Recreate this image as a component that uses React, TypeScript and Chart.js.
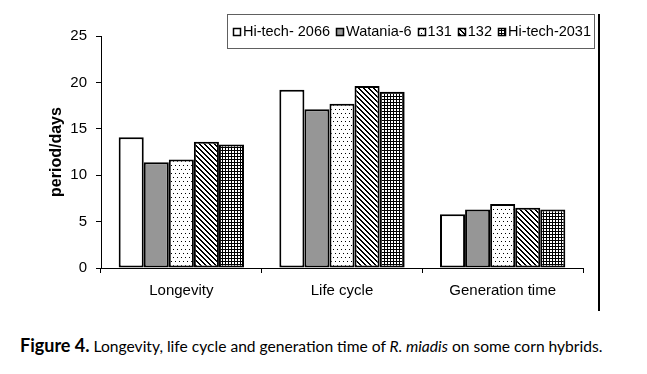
import React, { useEffect, useRef } from "react";
import { Chart, registerables } from "chart.js";

Chart.register(...registerables);

const categories = ["Longevity", "Life cycle", "Generation time"];
const seriesNames = ["Hi-tech- 2066", "Watania-6", "131", "132", "Hi-tech-2031"];
const hitech2066 = [14.1, 19.2, 5.8];
const watania6 = [11.4, 17.1, 6.3];
const hybrid131 = [11.7, 17.7, 6.9];
const hybrid132 = [13.6, 19.6, 6.5];
const hitech2031 = [13.3, 19.0, 6.3];
const yMin = 0;
const yMax = 25;
const yStep = 5;
const yTitle = "period/days";

const FONT = '"Liberation Sans", Arial, sans-serif';

function makeTile(w: number, h: number, fn: (x: number, y: number) => boolean): CanvasPattern | string {
  const c = document.createElement("canvas");
  c.width = w;
  c.height = h;
  const ctx = c.getContext("2d");
  if (!ctx) return "#fff";
  ctx.fillStyle = "#ffffff";
  ctx.fillRect(0, 0, w, h);
  ctx.fillStyle = "#000000";
  for (let y = 0; y < h; y++) {
    for (let x = 0; x < w; x++) {
      if (fn(x, y)) ctx.fillRect(x, y, 1, 1);
    }
  }
  const p = ctx.createPattern(c, "repeat");
  return p || "#fff";
}

export default function App() {
  const ref = useRef<HTMLCanvasElement | null>(null);

  useEffect(() => {
    if (!ref.current) return;
    const dots = makeTile(8, 8, (x, y) => (x === 1 && y === 1) || (x === 5 && y === 1) || (x === 3 && y === 5) || (x === 7 && y === 5));
    const diag = makeTile(5, 5, (x, y) => {
      const d = (((x - y) % 5) + 5) % 5;
      return d === 0 || d === 1;
    });
    const grid = makeTile(3, 3, (x, y) => x % 3 === 0 || y % 3 === 0);
    const fills: (CanvasPattern | string)[] = ["#ffffff", "#969696", dots, diag, grid];
    const values = [hitech2066, watania6, hybrid131, hybrid132, hitech2031];

    const decor = {
      id: "decor",
      afterDraw(chart: any) {
        const ctx = chart.ctx as CanvasRenderingContext2D;
        ctx.save();
        // right frame line
        ctx.fillStyle = "#000";
        ctx.fillRect(598, 14, 2, 297);
        // legend box
        ctx.strokeStyle = "#606060";
        ctx.lineWidth = 1;
        ctx.strokeRect(227.5, 14.5, 367, 34);
        ctx.font = `14.5px ${FONT}`;
        ctx.textBaseline = "middle";
        ctx.textAlign = "left";
        const marker = 8;
        const mGap = 2;
        const startX = 233;
        const endX = 591;
        const widths = seriesNames.map((n) => ctx.measureText(n).width);
        const used = widths.reduce((a, b) => a + b, 0) + seriesNames.length * (marker + mGap);
        const gap = (endX - startX - used) / (seriesNames.length - 1);
        let x = startX;
        seriesNames.forEach((name, i) => {
          const mx = Math.round(x);
          ctx.fillStyle = fills[i] as any;
          ctx.fillRect(mx, 28, marker, marker);
          ctx.strokeStyle = "#000";
          ctx.lineWidth = 1.5;
          ctx.strokeRect(mx + 0.5, 28.5, marker - 1, marker - 1);
          ctx.fillStyle = "#000";
          ctx.fillText(name, x + marker + mGap, 32);
          x += marker + mGap + widths[i] + gap;
        });
        ctx.restore();
      },
    };

    const chart = new Chart(ref.current, {
      type: "bar",
      data: {
        labels: categories,
        datasets: seriesNames.map((name, i) => ({
          label: name,
          data: values[i],
          backgroundColor: fills[i] as any,
          borderColor: "#000",
          borderWidth: 2,
          borderSkipped: false,
          barPercentage: 1,
          categoryPercentage: 0.78,
        })),
      },
      options: {
        responsive: false,
        animation: false,
        devicePixelRatio: 1,
        layout: { padding: { top: 36, right: 64, left: 0, bottom: 0 } },
        plugins: {
          legend: { display: false },
          tooltip: { enabled: false },
        },
        scales: {
          x: {
            grid: {
              display: true,
              drawOnChartArea: false,
              offset: true,
              tickLength: 5,
              color: "#000",
            },
            border: { color: "#000", width: 1 },
            ticks: {
              color: "#000",
              font: { family: FONT, size: 15 },
              padding: 9,
            },
            afterFit: (s: any) => {
              s.height = 52;
            },
          },
          y: {
            min: yMin,
            max: yMax,
            ticks: {
              stepSize: yStep,
              color: "#000",
              font: { family: FONT, size: 15 },
              padding: 9,
            },
            grid: {
              display: true,
              drawOnChartArea: false,
              tickLength: 5,
              color: "#000",
            },
            border: { color: "#000", width: 1 },
            title: {
              display: true,
              text: yTitle,
              color: "#000",
              font: { family: FONT, size: 16, weight: "bold" },
              padding: { top: 47, bottom: 0 },
            },
            afterFit: (s: any) => {
              s.width = 101;
            },
          },
        },
      },
      plugins: [decor],
    } as any);
    return () => chart.destroy();
  }, []);

  return (
    <div style={{ position: "fixed", left: 0, top: 0, width: 647, height: 374, background: "#fff" }}>
      <canvas ref={ref} width={647} height={320} style={{ display: "block", position: "absolute", left: 0, top: 0 }} />
      <div
        style={{
          position: "absolute",
          left: 20,
          top: 334,
          fontFamily: "Lato, 'Open Sans', sans-serif",
          fontSize: 15.6,
          color: "#000",
          whiteSpace: "nowrap",
          lineHeight: "22px",
        }}
      >
        <b style={{ fontSize: 18 }}>Figure 4.</b> Longevity, life cycle and generation time of <i>R. miadis</i> on some corn hybrids.
      </div>
    </div>
  );
}
